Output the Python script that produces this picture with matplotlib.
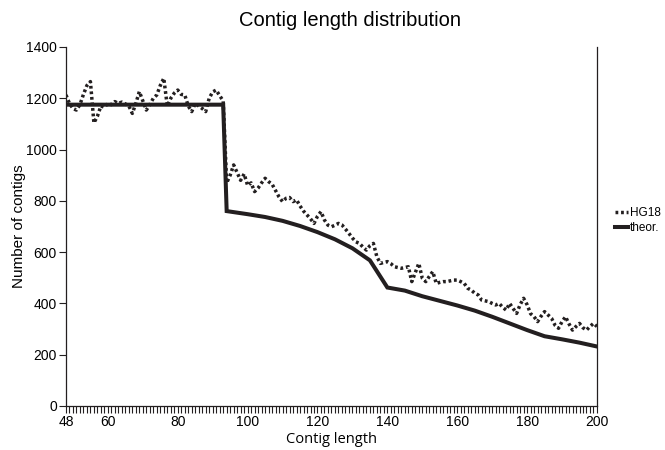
import numpy as np
import matplotlib
matplotlib.use("Agg")
import matplotlib.pyplot as plt
from matplotlib.ticker import MultipleLocator, FixedLocator

plt.rcParams['font.family'] = ['Liberation Sans', 'DejaVu Sans']

# observed contig counts, one per length 48..200
hg18_len = np.arange(48, 201)
hg18 = [1213, 1180, 1160, 1154, 1175, 1215, 1250, 1265, 1104, 1130,
        1170, 1165, 1180, 1175, 1187, 1180, 1185, 1178, 1170, 1141,
        1180, 1226, 1190, 1154, 1175, 1200, 1213, 1250, 1278, 1170,
        1200, 1220, 1232, 1215, 1213, 1170, 1148, 1180, 1170, 1160,
        1148, 1200, 1225, 1232, 1210, 1190, 870, 900, 940, 910,
        880, 905, 860, 870, 836, 850, 870, 888, 875, 865,
        840, 815, 797, 810, 813, 797, 804, 780, 760, 745,
        730, 712, 740, 758, 725, 705, 699, 705, 712, 706,
        690, 673, 655, 640, 634, 620, 608, 625, 634, 582,
        556, 560, 563, 555, 543, 540, 537, 540, 543, 485,
        520, 556, 498, 485, 505, 524, 478, 482, 485, 485,
        488, 491, 491, 485, 478, 459, 452, 440, 433, 413,
        410, 407, 400, 394, 400, 385, 374, 400, 380, 361,
        395, 420, 395, 360, 348, 329, 350, 368, 355, 342,
        315, 303, 329, 348, 320, 296, 310, 322, 305, 296,
        310, 322, 310]

# theoretical curve
theor_len = [48, 93, 94, 100, 105, 110, 115, 120, 125, 130, 135, 140,
             145, 150, 155, 160, 165, 170, 175, 180, 185, 190, 195, 200]
theor = [1175, 1175, 760, 748, 737, 722, 702, 678, 650, 615, 568, 462,
         450, 428, 410, 392, 372, 348, 322, 296, 272, 260, 247, 232]

x_major = [48, 60, 80, 100, 120, 140, 160, 180, 200]

fig = plt.figure(figsize=(6.65, 4.5), dpi=100)
ax = fig.add_axes([0.0992, 0.0978, 0.7985, 0.7978])

ax.plot(hg18_len, hg18, color='#231f20', lw=2.5, linestyle=(0, (0.8, 0.8)),
        dash_capstyle='butt', label='HG18')
ax.plot(theor_len, theor, color='#231f20', lw=2.9, solid_joinstyle='miter',
        label='theor.')

ax.set_xlim(48, 200)
ax.set_ylim(0, 1400)
ax.xaxis.set_major_locator(FixedLocator(x_major))
ax.xaxis.set_minor_locator(MultipleLocator(1))
ax.yaxis.set_major_locator(MultipleLocator(200))

for s in ['left', 'bottom', 'right']:
    ax.spines[s].set_linewidth(0.9)
    ax.spines[s].set_color('#231f20')
ax.spines['top'].set_visible(False)

ax.tick_params(axis='both', which='major', length=5, width=0.8,
               labelsize=10, color='#231f20', pad=1.5)
ax.tick_params(axis='x', which='minor', length=5, width=0.8, color='#231f20')
ax.tick_params(axis='y', right=False)

ax.set_ylabel('Number of contigs', fontsize=11, labelpad=0)
ax.set_xlabel('Contig length', fontsize=10.5, family=['Open Sans', 'DejaVu Sans'],
              labelpad=2)

fig.text(0.526, 0.955, 'Contig length distribution', ha='center', va='center',
         fontsize=14.5)

fig.legend(loc='center left', bbox_to_anchor=(0.917, 0.51), frameon=False,
           fontsize=8.5, handlelength=1.1, handletextpad=0.2, labelspacing=0.3,
           borderaxespad=0)

fig.savefig('out.png', dpi=100)
